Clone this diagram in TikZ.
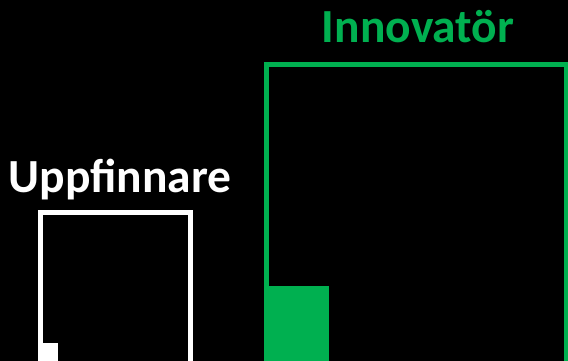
\documentclass[tikz,border=0pt]{standalone}
\usepackage{fontspec}
\setmainfont{Carlito}
\definecolor{innogreen}{HTML}{00B050}
\tikzset{
  label text/.style={font=\bfseries\fontsize{47.5}{54}\selectfont, anchor=base, inner sep=0pt},
  box line/.style={line width=5pt}
}

\begin{document}
\begin{tikzpicture}[x=1pt, y=-1pt]
	\useasboundingbox (0,0) rectangle (568,361);
	\fill[black] (0,0) rectangle (568,361);
	\clip (0,0) rectangle (568,361);
	% uppfinnare
	\node[label text, text=white] (uppf) at (120,192.5) {Uppfinnare};
	\draw[box line, white] (40.5,380) -- (40.5,212.5) -- (190.8,212.5) -- (190.8,380);
	\fill[white] (38,343) rectangle (58,370);
	% innovator
	\node[label text, text=innogreen] (innov) at (418,42.5) {Innovatör};
	\draw[box line, innogreen] (266.8,380) -- (266.8,64.2) -- (566.8,64.2) -- (566.8,380);
	\fill[innogreen] (264.3,285.7) rectangle (329.3,370);
\end{tikzpicture}
\end{document}
